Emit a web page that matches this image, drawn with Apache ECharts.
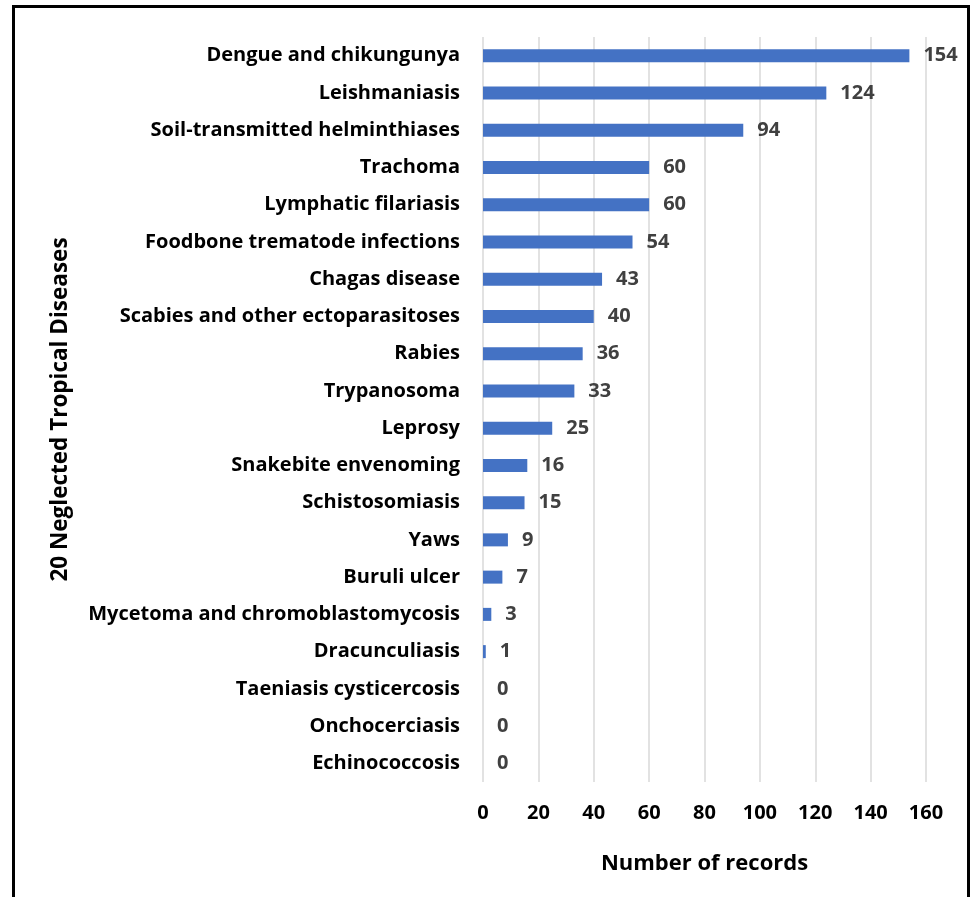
<!DOCTYPE html>
<html>
<head>
<meta charset="utf-8">
<title>Neglected Tropical Diseases – number of records</title>
<script src="https://cdn.jsdelivr.net/npm/echarts@6/dist/echarts.min.js"></script>
<style>
  html, body { margin: 0; padding: 0; background: #ffffff; }
  #chart { width: 974px; height: 897px; }
</style>
</head>
<body>
<div id="chart"></div>
<script>
// Diseases, listed top to bottom as drawn
const diseases = [
  'Dengue and chikungunya',
  'Leishmaniasis',
  'Soil-transmitted helminthiases',
  'Trachoma',
  'Lymphatic filariasis',
  'Foodbone trematode infections',
  'Chagas disease',
  'Scabies and other ectoparasitoses',
  'Rabies',
  'Trypanosoma',
  'Leprosy',
  'Snakebite envenoming',
  'Schistosomiasis',
  'Yaws',
  'Buruli ulcer',
  'Mycetoma and chromoblastomycosis',
  'Dracunculiasis',
  'Taeniasis cysticercosis',
  'Onchocerciasis',
  'Echinococcosis'
];

// Number of records per disease
const records = [154, 124, 94, 60, 60, 54, 43, 40, 36, 33, 25, 16, 15, 9, 7, 3, 1, 0, 0, 0];

const xAxisMin = 0;
const xAxisMax = 160;
const xAxisStep = 20;

const FONT = '"Open Sans", "Noto Sans", sans-serif';

const chart = echarts.init(document.getElementById('chart'), null, { renderer: 'canvas' });

chart.setOption({
  backgroundColor: '#ffffff',
  animation: false,
  graphic: [{
    type: 'rect',
    shape: { x: 13.5, y: 6.5, width: 955, height: 920 },
    style: { fill: 'none', stroke: '#000000', lineWidth: 3 },
    silent: true
  }],
  grid: {
    left: 483,
    right: 974 - 926,
    top: 37,
    bottom: 897 - 782,
    containLabel: false
  },
  xAxis: {
    type: 'value',
    min: xAxisMin,
    max: xAxisMax,
    interval: xAxisStep,
    name: 'Number of records',
    nameLocation: 'middle',
    nameGap: 71,
    nameTextStyle: { fontFamily: FONT, fontWeight: 'bold', fontSize: 22, color: '#000000' },
    axisLine: { show: false },
    axisTick: { show: false },
    axisLabel: {
      margin: 21,
      fontFamily: FONT,
      fontWeight: 'bold',
      fontSize: 20,
      color: '#000000'
    },
    splitLine: { show: true, lineStyle: { color: '#d9d9d9', width: 1.5 } }
  },
  yAxis: {
    type: 'category',
    data: diseases,
    inverse: true,
    name: '20 Neglected Tropical Diseases',
    nameLocation: 'middle',
    nameGap: 411,
    nameRotate: 90,
    nameTextStyle: { fontFamily: FONT, fontWeight: 'bold', fontSize: 22.5, color: '#000000' },
    axisLine: { show: false },
    axisTick: { show: false },
    axisLabel: {
      margin: 23,
      fontFamily: FONT,
      fontWeight: 'bold',
      fontSize: 20,
      color: '#000000'
    }
  },
  series: [{
    type: 'bar',
    data: records,
    barWidth: 13,
    itemStyle: { color: '#4472c4' },
    label: {
      show: true,
      position: 'right',
      distance: 14,
      fontFamily: FONT,
      fontWeight: 'bold',
      fontSize: 20,
      color: '#404040'
    }
  }]
});
</script>
</body>
</html>
